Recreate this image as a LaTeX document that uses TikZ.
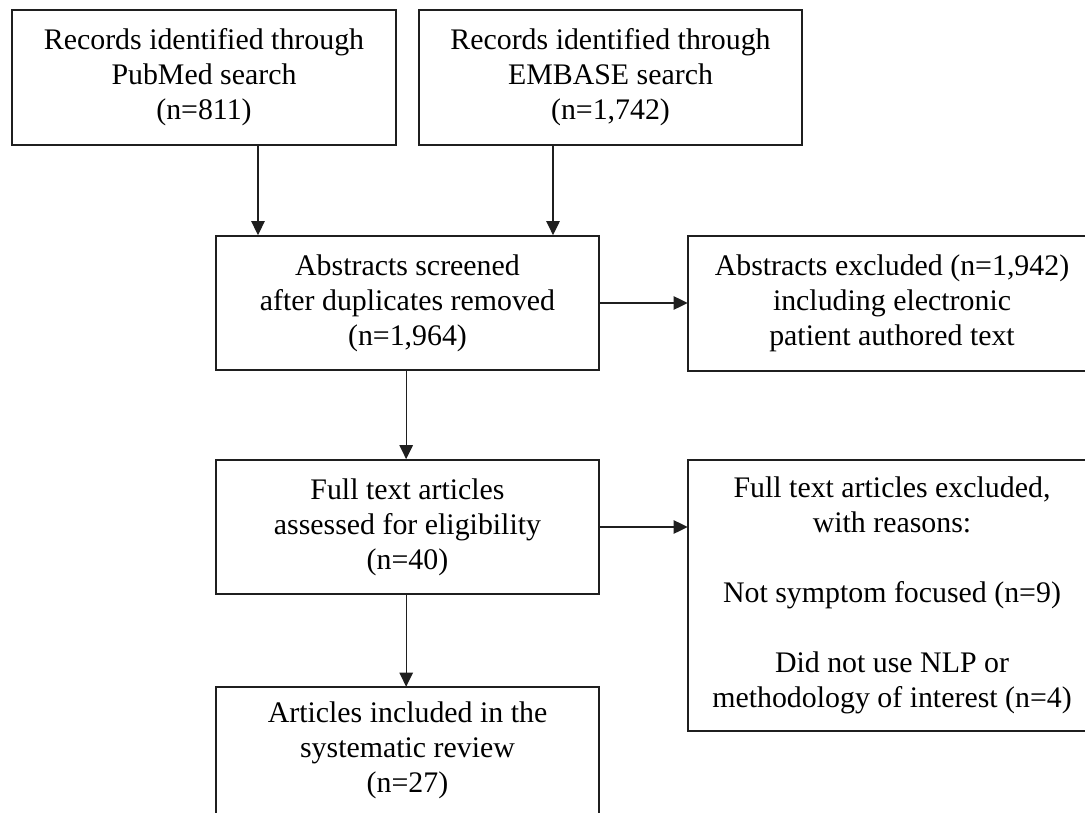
\documentclass[tikz,border=0pt]{standalone}
\usepackage{fontspec}
\setmainfont{Liberation Serif}
\usetikzlibrary{arrows.meta,calc}
\begin{document}
\begin{tikzpicture}[x=0.75pt,y=-0.75pt,
  box/.style={draw=black!88, line width=1.2pt, align=center, inner sep=0pt,
    font=\fontsize{22.4}{26.25}\selectfont},
  plain/.style={align=center, inner sep=0pt, font=\fontsize{22.4}{26.25}\selectfont},
  boxline/.style={draw=black!88, line width=1.2pt},
  arr/.style={draw=black!88, line width=1pt, -{Triangle[length=10.5pt,width=10pt]}}]
\useasboundingbox (0,0) rectangle (1085,813);

\node[box, minimum width=288pt, minimum height=101.25pt] (pub) at (204,77.5)
  {Records identified through\\PubMed search\\(n=811)};
\node[box, minimum width=287.25pt, minimum height=101.25pt] (emb) at (610.5,77.5)
  {Records identified through\\EMBASE search\\(n=1,742)};
\node[box, minimum width=287.25pt, minimum height=100.5pt] (abs) at (407.5,303)
  {Abstracts screened\\after duplicates removed\\(n=1,964)};
\node[plain, minimum width=306pt, minimum height=101.25pt] (absex) at (892,303.5)
  {Abstracts excluded (n=1,942)\\including electronic\\patient authored text};
\draw[boxline] (absex.north east) -| (absex.south west) -- (absex.south east);
\node[box, minimum width=287.25pt, minimum height=100.5pt] (full) at (407.5,527)
  {Full text articles\\assessed for eligibility\\(n=40)};
\node[plain, minimum width=306pt, minimum height=203.25pt] (fullex) at (892,595.5)
  {Full text articles excluded,\\with reasons:\\[26.25pt]Not symptom focused (n=9)\\[26.25pt]Did not use NLP or\\methodology of interest (n=4)};
\draw[boxline] (fullex.north east) -| (fullex.south west) -- (fullex.south east);
\node[plain, minimum width=287.25pt, minimum height=94.5pt] (inc) at (407.5,750)
  {Articles included in the\\systematic review\\(n=27)};
\draw[boxline] ([yshift=-12pt]inc.south west) |- (inc.north east) -- ([yshift=-12pt]inc.south east);

\draw[arr] ([xshift=40.5pt]pub.south) coordinate (t1) -- (t1 |- abs.north);
\draw[arr] ([xshift=-43.1pt]emb.south) coordinate (t2) -- (t2 |- abs.north);
\draw[arr] (abs.east) -- (abs.east -| absex.west);
\draw[arr] ([xshift=-1pt]abs.south) coordinate (t3) -- (t3 |- full.north);
\draw[arr] (full.east) -- (full.east -| fullex.west);
\draw[arr] ([xshift=-1pt]full.south) coordinate (t4) -- (t4 |- inc.north);
\end{tikzpicture}
\end{document}
